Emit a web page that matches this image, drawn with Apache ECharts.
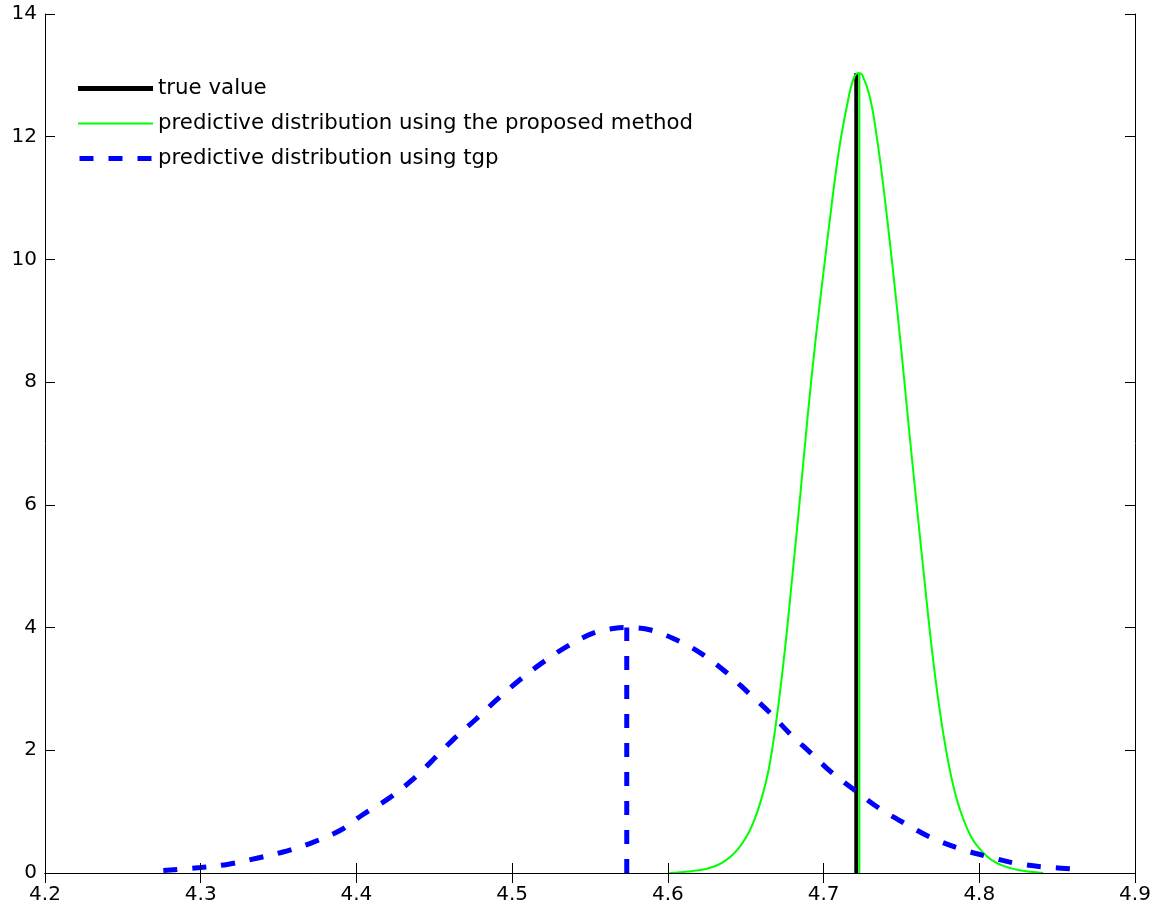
<!DOCTYPE html>
<html>
<head>
<meta charset="utf-8">
<script src="https://cdn.jsdelivr.net/npm/echarts@6/dist/echarts.min.js"></script>
<style>
  html, body { margin: 0; padding: 0; background: #fff; }
  #chart { width: 1160px; height: 907px; }
</style>
</head>
<body>
<div id="chart"></div>
<script>
// ---- data ----
const seriesNames = [
  'true value',
  'predictive distribution using the proposed method',
  'predictive distribution using tgp'
];

const trueValueX = 4.7210;
const trueValueTop = 13.04;

// proposed method predictive density
const greenX = [4.601, 4.605, 4.610, 4.615, 4.620, 4.625, 4.630, 4.635, 4.640, 4.645,
                4.650, 4.655, 4.660, 4.665, 4.670, 4.675, 4.680, 4.685, 4.690, 4.695,
                4.700, 4.705, 4.710, 4.715, 4.719, 4.7223, 4.725, 4.730, 4.735, 4.740,
                4.745, 4.750, 4.755, 4.760, 4.765, 4.770, 4.775, 4.780, 4.785, 4.790,
                4.795, 4.800, 4.805, 4.810, 4.815, 4.820, 4.825, 4.830, 4.835, 4.841];
const greenY = [0.00, 0.006, 0.015, 0.03, 0.045, 0.07, 0.11, 0.17, 0.26, 0.39,
                0.57, 0.83, 1.20, 1.72, 2.55, 3.60, 4.85, 6.15, 7.50, 8.72,
                9.80, 10.85, 11.80, 12.50, 12.93, 13.04, 13.00, 12.62, 11.85, 10.85,
                9.72, 8.50, 7.20, 5.95, 4.72, 3.55, 2.58, 1.82, 1.25, 0.86,
                0.58, 0.40, 0.27, 0.18, 0.12, 0.08, 0.05, 0.03, 0.015, 0.00];
const greenMeanX = 4.7230;

// tgp predictive density
const blueX = [4.276, 4.300, 4.317, 4.336, 4.354, 4.372, 4.390, 4.404, 4.421, 4.436,
               4.449, 4.462, 4.476, 4.490, 4.504, 4.519, 4.535, 4.552, 4.566, 4.5736,
               4.589, 4.608, 4.623, 4.637, 4.652, 4.666, 4.678, 4.692, 4.706, 4.721,
               4.736, 4.752, 4.768, 4.787, 4.805, 4.823, 4.841, 4.865];
const blueY = [0.04, 0.09, 0.14, 0.24, 0.35, 0.50, 0.70, 0.95, 1.22, 1.52,
               1.84, 2.17, 2.49, 2.82, 3.13, 3.42, 3.69, 3.91, 3.99, 4.00,
               3.96, 3.77, 3.55, 3.28, 2.93, 2.60, 2.28, 1.95, 1.62, 1.33,
               1.05, 0.81, 0.59, 0.40, 0.27, 0.16, 0.10, 0.06];
const blueModeX = 4.5736;
const blueModeY = 4.0;

// axis ticks
const xTicks = { min: 4.2, max: 4.9, step: 0.1 };
const yTicks = { min: 0, max: 14, step: 2 };

// ---- build chart ----
const zip = (xs, ys) => xs.map((x, i) => [x, ys[i]]);
const FONT = 'DejaVu Sans';

const axisCommon = {
  type: 'value',
  axisLine: { show: true, lineStyle: { color: '#000', width: 1 } },
  axisTick: { show: true, inside: true, length: 10, lineStyle: { color: '#000', width: 1 } },
  splitLine: { show: false },
  z: 10
};

const option = {
  backgroundColor: '#fff',
  animation: false,
  grid: { left: 45, right: 25, top: 14, bottom: 34, containLabel: false },
  xAxis: [
    Object.assign({}, axisCommon, {
      position: 'bottom',
      min: xTicks.min, max: xTicks.max, interval: xTicks.step,
      axisLabel: { show: true, color: '#000', fontSize: 20, fontFamily: FONT, margin: 12,
                   formatter: v => v.toFixed(1) }
    }),
    Object.assign({}, axisCommon, {
      position: 'top',
      min: xTicks.min, max: xTicks.max, interval: xTicks.step,
      axisLabel: { show: false }
    })
  ],
  yAxis: [
    Object.assign({}, axisCommon, {
      position: 'left',
      min: yTicks.min, max: yTicks.max, interval: yTicks.step,
      axisLabel: { show: true, color: '#000', fontSize: 20, fontFamily: FONT, margin: 8 }
    }),
    Object.assign({}, axisCommon, {
      position: 'right',
      min: yTicks.min, max: yTicks.max, interval: yTicks.step,
      axisLabel: { show: false }
    })
  ],
  legend: {
    data: [
      { name: seriesNames[0], icon: 'rect', itemStyle: { color: '#000', borderWidth: 0 } },
      { name: seriesNames[1], icon: 'path://M0,0h75v2h-75z', itemStyle: { color: '#00ff00', borderWidth: 0 } },
      { name: seriesNames[2], icon: 'path://M0,0h14v5h-14zM29,0h14v5h-14zM58,0h14v5h-14z', itemStyle: { color: '#0000ff', borderWidth: 0 } }
    ],
    orient: 'vertical',
    left: 78, top: 78,
    padding: 0,
    itemWidth: 75, itemHeight: 5, itemGap: 14,
    itemStyle: { borderWidth: 0 },
    symbolKeepAspect: true,
    textStyle: { fontSize: 21.3, fontFamily: FONT, color: '#000', lineHeight: 20 },
    selectedMode: false
  },
  series: [
    {
      name: seriesNames[0], type: 'line', symbol: 'none',
      data: [[trueValueX, 0], [trueValueX, trueValueTop]],
      lineStyle: { color: '#000', width: 4 },
      itemStyle: { color: '#000', borderWidth: 0 }
    },
    {
      name: seriesNames[1], type: 'line', symbol: 'none',
      data: zip(greenX, greenY),
      smooth: 0.4,
      lineStyle: { color: '#00ff00', width: 2 },
      itemStyle: { color: '#00ff00', borderWidth: 0 }
    },
    {
      name: 'proposed mean', type: 'line', symbol: 'none',
      data: [[greenMeanX, 0], [greenMeanX, trueValueTop]],
      lineStyle: { color: '#00ff00', width: 2 }
    },
    {
      name: seriesNames[2], type: 'line', symbol: 'none',
      data: zip(blueX, blueY),
      smooth: 0.35,
      lineStyle: { color: '#0000ff', width: 5, type: [14, 15] },
      itemStyle: { color: '#0000ff', borderWidth: 0 }
    },
    {
      name: 'tgp mode', type: 'line', symbol: 'none',
      data: [[blueModeX, 0], [blueModeX, blueModeY]],
      lineStyle: { color: '#0000ff', width: 5, type: [14, 15] }
    }
  ]
};

const chart = echarts.init(document.getElementById('chart'), null, { renderer: 'canvas' });
chart.setOption(option);
</script>
</body>
</html>
